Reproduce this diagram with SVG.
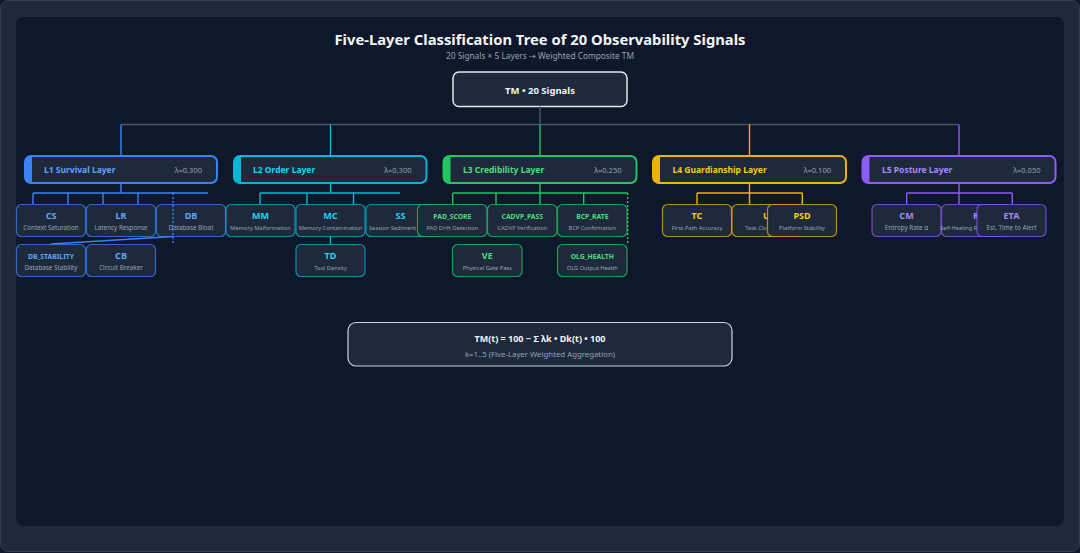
<svg xmlns="http://www.w3.org/2000/svg" width="1080" height="553" viewBox="0 0 1080 553">
<style>
text{font-family:"Noto Sans","Open Sans","DejaVu Sans","Liberation Sans",sans-serif}
.ttl{font-size:15px;font-weight:700;fill:#f1f5f9}
.sub{font-size:8px;fill:#94a3b8}
.lay{fill:#1e293b}
.lays{fill:none;stroke-width:2}
.lt{font-size:8.5px;font-weight:700}
.lam{font-size:7.5px;fill:#94a3b8;text-anchor:end}
.ch{fill:#1e293b;stroke-width:1.2;stroke-opacity:0.75}
.ab{font-size:9px;font-weight:700;text-anchor:middle}
.abl{font-size:6.8px;font-weight:700;text-anchor:middle}
.d1{font-size:6.3px;fill:#94a3b8;text-anchor:middle}
.d2{font-size:5.7px;fill:#94a3b8;text-anchor:middle}
.ds{font-size:5.7px;fill:#94a3b8;text-anchor:start}
.b{stroke:#3b82f6}.bt{fill:#60a5fa}
.c{stroke:#06b6d4}.ct{fill:#22d3ee}
.g{stroke:#22c55e}.gt{fill:#4ade80}
.y{stroke:#eab308}.yt{fill:#facc15}
.p{stroke:#8b5cf6}.pt{fill:#a78bfa}
.cn{fill:none;stroke-width:1.4}
.dot{stroke-dasharray:2 2}
</style>
<rect width="1080" height="553" fill="#0f172a"/>
<rect x="0.5" y="0.5" width="1079" height="551" rx="8" fill="#1e293b" stroke="#334155"/>
<rect x="16" y="17" width="1048" height="509" rx="8" fill="#0f172a"/>
<text class="ttl" x="540" y="45" text-anchor="middle" textLength="411" lengthAdjust="spacingAndGlyphs">Five-Layer Classification Tree of 20 Observability Signals</text>
<text class="sub" x="540" y="58.5" text-anchor="middle" textLength="188" lengthAdjust="spacingAndGlyphs">20 Signals × 5 Layers <tspan font-family="DejaVu Sans, sans-serif">→</tspan> Weighted Composite TM</text>

<g id="root">
<rect x="453" y="72" width="174" height="34.5" rx="6" fill="#1e293b" stroke="#e2e8f0" stroke-width="1.5"/>
<text x="540" y="93.5" text-anchor="middle" font-size="9.5" font-weight="700" fill="#f1f5f9">TM • 20 Signals</text>
</g>

<g id="L1">
<rect class="lay" x="25" y="156" width="192" height="27" rx="6"/>
<path d="M32 156H31A6 6 0 0 0 25 162V177A6 6 0 0 0 31 183H32Z" fill="#3b82f6"/>
<rect class="lays b" x="25" y="156" width="192" height="27" rx="6"/>
<text class="lt bt" x="44" y="173">L1 Survival Layer</text>
<text class="lam" x="202" y="173">λ=0.300</text>
</g>
<g id="L2">
<rect class="lay" x="234" y="156" width="192.5" height="27" rx="6"/>
<path d="M241 156H240A6 6 0 0 0 234 162V177A6 6 0 0 0 240 183H241Z" fill="#06b6d4"/>
<rect class="lays c" x="234" y="156" width="192.5" height="27" rx="6"/>
<text class="lt ct" x="253" y="173">L2 Order Layer</text>
<text class="lam" x="411.5" y="173">λ=0.300</text>
</g>
<g id="L3">
<rect class="lay" x="443.5" y="156" width="193" height="27" rx="6"/>
<path d="M450.5 156H449.5A6 6 0 0 0 443.5 162V177A6 6 0 0 0 449.5 183H450.5Z" fill="#22c55e"/>
<rect class="lays g" x="443.5" y="156" width="193" height="27" rx="6"/>
<text class="lt gt" x="463" y="173">L3 Credibility Layer</text>
<text class="lam" x="621.5" y="173">λ=0.250</text>
</g>
<g id="L4">
<rect class="lay" x="653" y="156" width="193" height="27" rx="6"/>
<path d="M660 156H659A6 6 0 0 0 653 162V177A6 6 0 0 0 659 183H660Z" fill="#eab308"/>
<rect class="lays y" x="653" y="156" width="193" height="27" rx="6"/>
<text class="lt yt" x="672.5" y="173">L4 Guardianship Layer</text>
<text class="lam" x="831" y="173">λ=0.100</text>
</g>
<g id="L5">
<rect class="lay" x="862.5" y="156" width="193" height="27" rx="6"/>
<path d="M869.5 156H868.5A6 6 0 0 0 862.5 162V177A6 6 0 0 0 868.5 183H869.5Z" fill="#8b5cf6"/>
<rect class="lays p" x="862.5" y="156" width="193" height="27" rx="6"/>
<text class="lt pt" x="882" y="173">L5 Posture Layer</text>
<text class="lam" x="1040.5" y="173">λ=0.050</text>
</g>

<g id="CS"><rect class="ch b" x="16.5" y="204.5" width="69" height="32" rx="5"/><text class="ab bt" x="51" y="218.5">CS</text><text class="d1" x="51" y="230">Context Saturation</text></g>
<g id="LR"><rect class="ch b" x="86.5" y="204.5" width="69" height="32" rx="5"/><text class="ab bt" x="121" y="218.5">LR</text><text class="d1" x="121" y="230">Latency Response</text></g>
<g id="DB"><rect class="ch b" x="156.5" y="204.5" width="69" height="32" rx="5"/><text class="ab bt" x="191" y="218.5">DB</text><text class="d1" x="191" y="230">Database Bloat</text></g>
<g id="DB_STABILITY"><rect class="ch b" x="16.5" y="244.5" width="69" height="32" rx="5"/><text class="abl bt" x="51" y="258.5">DB_STABILITY</text><text class="d1" x="51" y="270">Database Stability</text></g>
<g id="CB"><rect class="ch b" x="86.5" y="244.5" width="69" height="32" rx="5"/><text class="ab bt" x="121" y="258.5">CB</text><text class="d1" x="121" y="270">Circuit Breaker</text></g>

<g id="MM"><rect class="ch c" x="226" y="204.5" width="69" height="32" rx="5"/><text class="ab ct" x="260.5" y="218.5">MM</text><text class="d2" x="260.5" y="230">Memory Malformation</text></g>
<g id="MC"><rect class="ch c" x="296" y="204.5" width="69" height="32" rx="5"/><text class="ab ct" x="330.5" y="218.5">MC</text><text class="d2" x="330.5" y="230">Memory Contamination</text></g>
<g id="SS"><rect class="ch c" x="366" y="204.5" width="69" height="32" rx="5"/><text class="ab ct" x="400.5" y="218.5">SS</text><text class="ds" x="369" y="230">Session Sediment</text></g>
<g id="TD"><rect class="ch c" x="296" y="244.5" width="69" height="32" rx="5"/><text class="ab ct" x="330.5" y="258.5">TD</text><text class="d2" x="330.5" y="270">Tool Density</text></g>

<g id="PAD_SCORE"><rect class="ch g" x="417.5" y="204.5" width="69.5" height="32" rx="5"/><text class="abl gt" x="452.3" y="218.5">PAD_SCORE</text><text class="d2" x="452.3" y="230">PAD Drift Detection</text></g>
<g id="CADVP_PASS"><rect class="ch g" x="487.5" y="204.5" width="69.5" height="32" rx="5"/><text class="abl gt" x="522.3" y="218.5">CADVP_PASS</text><text class="d2" x="522.3" y="230">CADVP Verification</text></g>
<g id="BCP_RATE"><rect class="ch g" x="557.5" y="204.5" width="69.5" height="32" rx="5"/><text class="abl gt" x="592.3" y="218.5">BCP_RATE</text><text class="d2" x="592.3" y="230">BCP Confirmation</text></g>
<g id="VE"><rect class="ch g" x="452.5" y="244.5" width="69.5" height="32" rx="5"/><text class="ab gt" x="487.3" y="258.5">VE</text><text class="d2" x="487.3" y="270">Physical Gate Pass</text></g>
<g id="OLG_HEALTH"><rect class="ch g" x="557.5" y="244.5" width="69.5" height="32" rx="5"/><text class="abl gt" x="592.3" y="258.5">OLG_HEALTH</text><text class="d2" x="592.3" y="270">OLG Output Health</text></g>

<g id="TC"><rect class="ch y" x="662.5" y="204.5" width="69" height="32" rx="5"/><text class="ab yt" x="697" y="218.5">TC</text><text class="d2" x="697" y="230">First-Path Accuracy</text></g>
<g id="U"><rect class="ch y" x="732" y="204.5" width="69" height="32" rx="5"/><text class="ab yt" x="766.5" y="218.5">U</text><text class="ds" x="745" y="230">Task Clo</text></g>
<g id="PSD"><rect class="ch y" x="767.5" y="204.5" width="69" height="32" rx="5"/><text class="ab yt" x="802" y="218.5">PSD</text><text class="d2" x="802" y="230">Platform Stability</text></g>

<g id="CM"><rect class="ch p" x="872" y="204.5" width="69" height="32" rx="5"/><text class="ab pt" x="906.5" y="218.5">CM</text><text class="d1" x="906.5" y="230">Entropy Rate α</text></g>
<g id="R"><rect class="ch p" x="941.5" y="204.5" width="69" height="32" rx="5"/><text class="ab pt" x="976" y="218.5">R</text><text class="ds" x="940" y="230" font-size="5.3">Self-Healing R</text></g>
<g id="ETA"><rect class="ch p" x="977" y="204.5" width="69" height="32" rx="5"/><text class="ab pt" x="1011.5" y="218.5">ETA</text><text class="d1" x="1011.5" y="230">Est. Time to Alert</text></g>

<g id="formula">
<rect x="348" y="322.5" width="384" height="43.5" rx="8" fill="#1e293b" stroke="#cbd5e1" stroke-width="1.2"/>
<text x="540" y="341.5" text-anchor="middle" font-size="9" font-weight="700" fill="#f1f5f9">TM(t) = 100 − Σ λk • Dk(t) • 100</text>
<text x="540" y="356.5" text-anchor="middle" font-size="7.8" fill="#94a3b8">k=1..5 (Five-Layer Weighted Aggregation)</text>
</g>

<g id="connectors">
<path class="cn" stroke="#475569" d="M540 106.5V124.5M121 124.5H959"/>
<path class="cn" stroke="#3b82f6" d="M121 124.5V156"/>
<path class="cn" stroke="#06b6d4" d="M330.5 124.5V156"/>
<path class="cn" stroke="#22c55e" d="M540 124.5V156"/>
<path class="cn" stroke="#eab308" d="M749.5 124.5V156"/>
<path class="cn" stroke="#8b5cf6" d="M959 124.5V156"/>

<path class="cn" stroke="#3b82f6" d="M121 183V193M33 193H208M33 193V204M68 193V204M103 193V204M138 193V204"/>
<path class="cn dot" stroke="#3b82f6" d="M173 193V243"/>
<path class="cn" stroke="#3b82f6" stroke-width="1" d="M173 236.5L51 244"/>

<path class="cn" stroke="#06b6d4" d="M330.5 183V193M260 193H400M260 193V204M307 193V204M353.5 193V204M330.5 236.5V244.5"/>

<path class="cn" stroke="#22c55e" d="M540 183V204M452.7 193H627.7M452.7 193V204M496 193V204M583.7 193V204"/>
<path class="cn dot" stroke="#22c55e" d="M627.7 193V244"/>

<path class="cn" stroke="#eab308" d="M749.5 183V204M697 193H802.3M697 193V204M802.3 193V204"/>
<path class="cn" stroke="#8b5cf6" d="M959 183V204M906.7 193H1012.3M906.7 193V204M1012.3 193V204"/>
</g>
</svg>
